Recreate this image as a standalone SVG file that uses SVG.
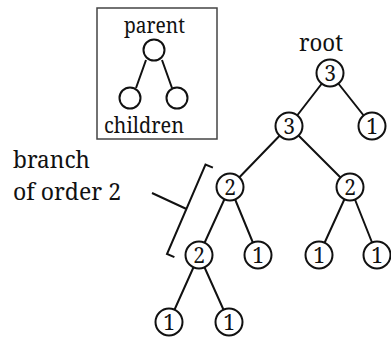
<svg xmlns="http://www.w3.org/2000/svg" width="391" height="343" viewBox="0 0 391 343">
<style>
.lbl{font-family:'Noto Serif','DejaVu Serif',serif;fill:#111}
.lg{font-size:22px}
.bg{font-size:23.5px}
.num{font-family:'Noto Serif','DejaVu Serif',serif;font-size:21px;fill:#111;text-anchor:middle}
.nd{fill:#fff;stroke:#111;stroke-width:2}
.ln{stroke:#111;stroke-width:2;fill:none}
</style>
<rect width="391" height="343" fill="#fff"/>
<g id="legend">
<rect x="97" y="8" width="120" height="131" fill="none" stroke="#444" stroke-width="1.5"/>
<text class="lbl lg" x="124" y="33" textLength="61" lengthAdjust="spacingAndGlyphs">parent</text>
<path class="ln" d="M146,60 L136,88 M162,60 L172,88"/>
<circle class="nd" cx="154" cy="50" r="10.5"/>
<circle class="nd" cx="130" cy="98" r="10.5"/>
<circle class="nd" cx="177" cy="98" r="10.5"/>
<text class="lbl lg" x="104" y="133" textLength="80" lengthAdjust="spacingAndGlyphs">children</text>
</g>
<g id="annotation">
<text class="lbl bg" x="13" y="168" textLength="77" lengthAdjust="spacingAndGlyphs">branch</text>
<text class="lbl bg" x="13" y="200" textLength="108" lengthAdjust="spacingAndGlyphs">of order 2</text>
<path class="ln" d="M212.9,167.7 L205.5,164.5 L167,254 L174.4,257.2 M152,193 L186.5,209" stroke-width="1.8"/>
<text class="lbl bg" x="299" y="51" textLength="44" lengthAdjust="spacingAndGlyphs">root</text>
</g>
<g id="connectors">
<path class="ln" d="M330,73 L289,126 M330,73 L372,126 M289,126 L230,187 M289,126 L350,187 M230,187 L199,255 M230,187 L258,255 M350,187 L319,255 M350,187 L377,255 M199,255 L169,322 M199,255 L229,322"/>
</g>
<g id="n_root"><circle class="nd" cx="330" cy="73" r="13.5"/><text class="num" x="330" y="80.5">3</text></g>
<g id="n_a"><circle class="nd" cx="289" cy="126" r="13.5"/><text class="num" x="289" y="133.5">3</text></g>
<g id="n_b"><circle class="nd" cx="372" cy="126" r="13.5"/><text class="num" x="372" y="133.5">1</text></g>
<g id="n_c"><circle class="nd" cx="230" cy="187" r="13.5"/><text class="num" x="230" y="194.5">2</text></g>
<g id="n_d"><circle class="nd" cx="350" cy="187" r="13.5"/><text class="num" x="350" y="194.5">2</text></g>
<g id="n_e"><circle class="nd" cx="199" cy="255" r="13.5"/><text class="num" x="199" y="262.5">2</text></g>
<g id="n_f"><circle class="nd" cx="258" cy="255" r="13.5"/><text class="num" x="258" y="262.5">1</text></g>
<g id="n_g"><circle class="nd" cx="319" cy="255" r="13.5"/><text class="num" x="319" y="262.5">1</text></g>
<g id="n_h"><circle class="nd" cx="377" cy="255" r="13.5"/><text class="num" x="377" y="262.5">1</text></g>
<g id="n_i"><circle class="nd" cx="169" cy="322" r="13.5"/><text class="num" x="169" y="329.5">1</text></g>
<g id="n_j"><circle class="nd" cx="229" cy="322" r="13.5"/><text class="num" x="229" y="329.5">1</text></g>
</svg>
